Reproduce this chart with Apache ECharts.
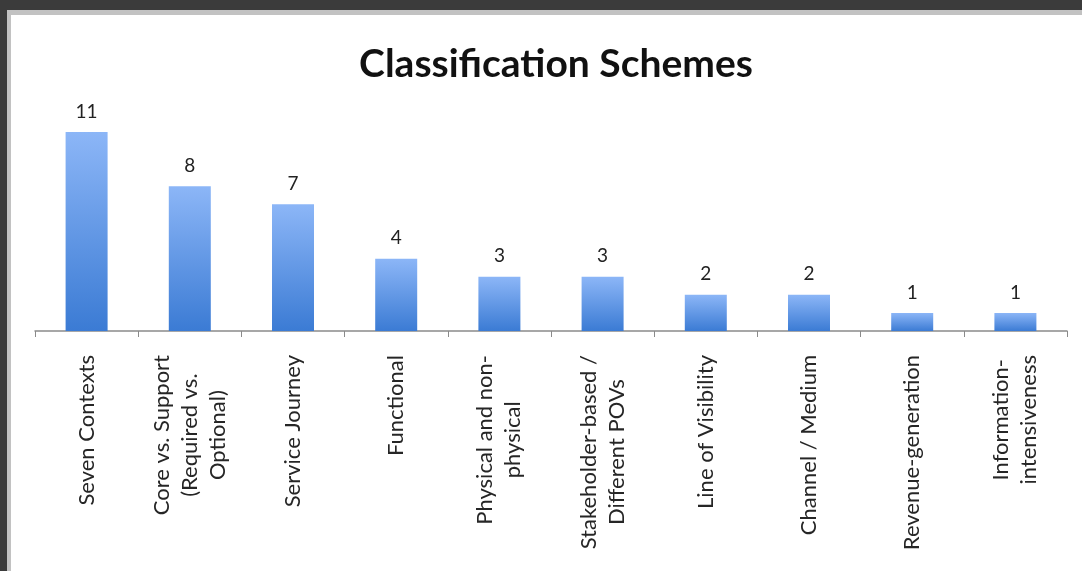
<!DOCTYPE html>
<html>
<head>
<meta charset="utf-8">
<script src="https://cdn.jsdelivr.net/npm/echarts@6/dist/echarts.min.js"></script>
<style>
  html, body { margin: 0; padding: 0; background: #3b3b3b; }
  #chart { width: 1082px; height: 571px; }
</style>
</head>
<body>
<div id="chart"></div>
<script>
const categories = [
  'Seven Contexts',
  'Core vs. Support\n(Required vs.\nOptional)',
  'Service Journey',
  'Functional',
  'Physical and non-\nphysical',
  'Stakeholder-based /\nDifferent POVs',
  'Line of Visibility',
  'Channel / Medium',
  'Revenue-generation',
  'Information-\nintensiveness'
];
const values = [11, 8, 7, 4, 3, 3, 2, 2, 1, 1];
const titleText = 'Classification Schemes';

const chart = echarts.init(document.getElementById('chart'));
chart.setOption({
  backgroundColor: '#3b3b3b',
  animation: false,
  graphic: [
    { type: 'rect', z: -10, shape: { x: 7, y: 10, width: 1075, height: 561 }, style: { fill: '#c2c2c2' } },
    { type: 'rect', z: -9, shape: { x: 11, y: 15, width: 1071, height: 556 }, style: { fill: '#ffffff' } }
  ],
  title: {
    text: titleText,
    left: 551,
    top: 40,
    textAlign: 'center',
    textStyle: { fontFamily: 'Lato', fontWeight: 'bold', fontSize: 39, color: '#111' }
  },
  grid: { left: 35, right: 15, top: 132, bottom: 240 },
  xAxis: {
    type: 'category',
    data: categories,
    axisLine: { lineStyle: { color: '#8a8a8a', width: 1.5 } },
    axisTick: { show: true, length: 6, lineStyle: { color: '#8a8a8a' } },
    axisLabel: {
      rotate: 90,
      interval: 0,
      margin: 24,
      align: 'right',
      formatter: function (v) {
        return v.split('\n').map(function (s) { return '{c|' + s + '}'; }).join('\n');
      },
      rich: {
        c: { align: 'center', fontFamily: 'Lato', fontSize: 22, lineHeight: 28, color: '#262626' }
      },
      fontFamily: 'Lato',
      fontSize: 22,
      lineHeight: 28,
      color: '#262626'
    }
  },
  yAxis: {
    type: 'value',
    min: 0,
    max: 11,
    show: false,
    splitLine: { show: false }
  },
  series: [{
    type: 'bar',
    data: values,
    barWidth: 42,
    itemStyle: {
      color: new echarts.graphic.LinearGradient(0, 0, 0, 1, [
        { offset: 0, color: '#8cb6f7' },
        { offset: 1, color: '#3b7bd4' }
      ])
    },
    label: {
      show: true,
      position: 'top',
      distance: 11,
      fontFamily: 'Lato',
      fontSize: 19,
      color: '#222'
    }
  }]
});
</script>
</body>
</html>
